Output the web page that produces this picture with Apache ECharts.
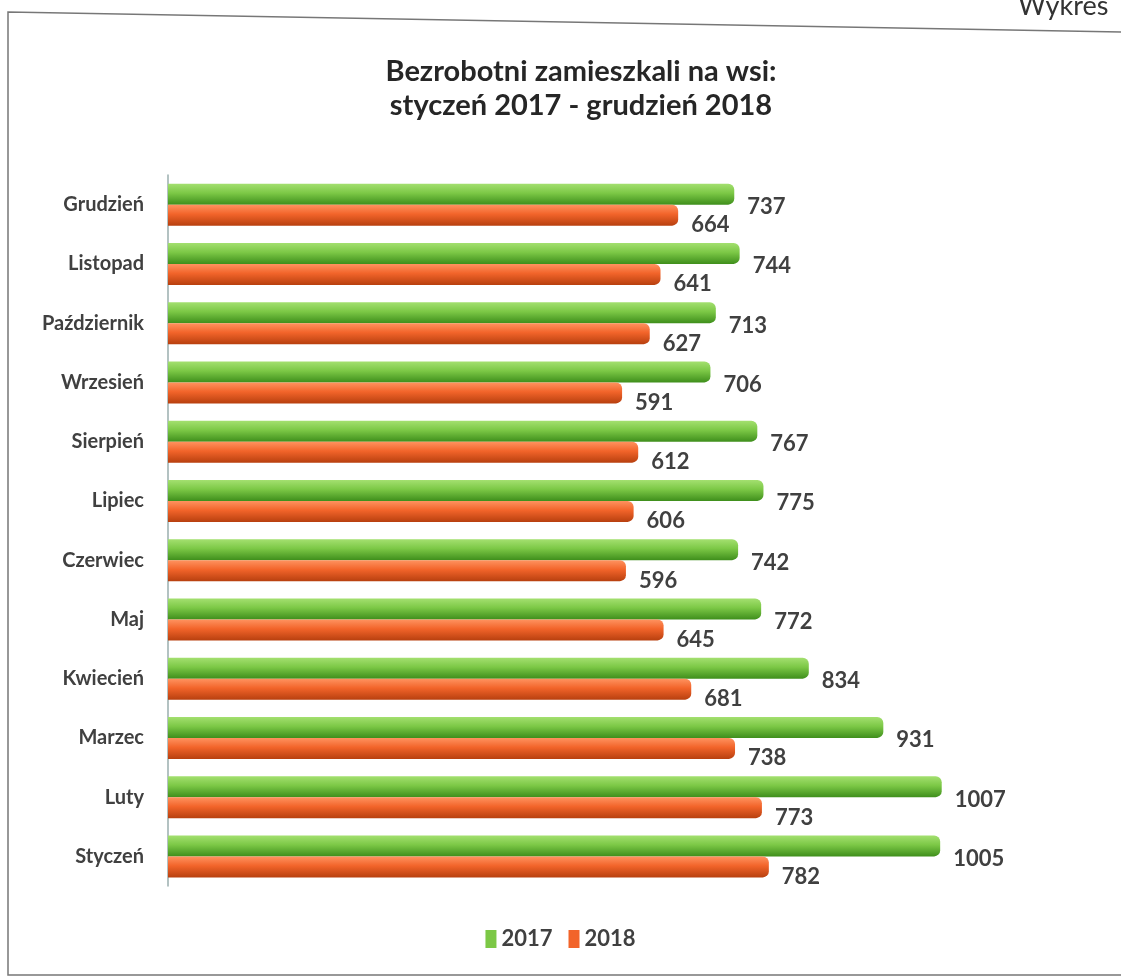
<!DOCTYPE html>
<html><head><meta charset="utf-8">
<script src="https://cdn.jsdelivr.net/npm/echarts@6/dist/echarts.min.js"></script>
<style>html,body{margin:0;padding:0;background:#fff}#c{width:1121px;height:977px}</style>
</head><body><div id="c"></div>
<script>
const categories = ['Styczeń','Luty','Marzec','Kwiecień','Maj','Czerwiec','Lipiec','Sierpień','Wrzesień','Październik','Listopad','Grudzień'];
const values2017 = [1005,1007,931,834,772,742,775,767,706,713,744,737];
const values2018 = [782,773,738,681,645,596,606,612,591,627,641,664];
const seriesNames = ['2017','2018'];

const chart = echarts.init(document.getElementById('c'));
const green = new echarts.graphic.LinearGradient(0,0,0,1,[
  {offset:0,color:'#a4e070'},{offset:0.45,color:'#7cc846'},{offset:1,color:'#3f8f1c'}]);
const orange = new echarts.graphic.LinearGradient(0,0,0,1,[
  {offset:0,color:'#ff9360'},{offset:0.45,color:'#f2642a'},{offset:1,color:'#b8400f'}]);
const labelStyle = {show:true, position:'right', distance:13, color:'#404040',
  fontFamily:'Lato', fontWeight:'bold', fontSize:22};
chart.setOption({
  animation:false,
  title:{text:'Bezrobotni zamieszkali na wsi:\nstyczeń 2017 - grudzień 2018', left:576, textAlign:'center', top:50,
    textStyle:{fontFamily:'Lato', fontWeight:'bold', fontSize:29, lineHeight:34, color:'#262626'}},
  legend:{bottom:22, left:'center', itemWidth:11, itemHeight:18, itemGap:16,
    icon:'rect', textStyle:{fontFamily:'Lato', fontWeight:'bold', fontSize:22, color:'#404040'},
    data:[{name:'2017', itemStyle:{color:'#7cc846'}},{name:'2018', itemStyle:{color:'#f2642a'}}]},
  grid:{left:168, right:31, top:175, bottom:91},
  xAxis:{type:'value', min:0, max:1200, show:false},
  yAxis:{type:'category', data:categories,
    axisLine:{show:true, lineStyle:{color:'#9aaeae', width:1.5}},
    axisTick:{show:false},
    axisLabel:{margin:24, color:'#404040', fontFamily:'Lato', fontWeight:'bold', fontSize:20}},
  graphic:[
    {type:'polyline', shape:{points:[[1121,32],[8,12],[8,975],[1121,975]]}, style:{stroke:'#777', lineWidth:1.5, fill:null}},
    {type:'text', left:1018, top:-7, style:{text:'Wykres', fontFamily:'Lato', fontSize:27, fill:'#333'}}
  ],
  series:[
    {name:seriesNames[0], type:'bar', data:values2017, barWidth:21, barGap:'0%',
      itemStyle:{color:green, borderRadius:[0,6,6,0]},
      label:Object.assign({}, labelStyle, {offset:[0,13]})},
    {name:seriesNames[1], type:'bar', data:values2018, barWidth:21, barGap:'0%',
      itemStyle:{color:orange, borderRadius:[0,6,6,0]},
      label:Object.assign({}, labelStyle, {offset:[0,10]})}
  ]
});
</script></body></html>
